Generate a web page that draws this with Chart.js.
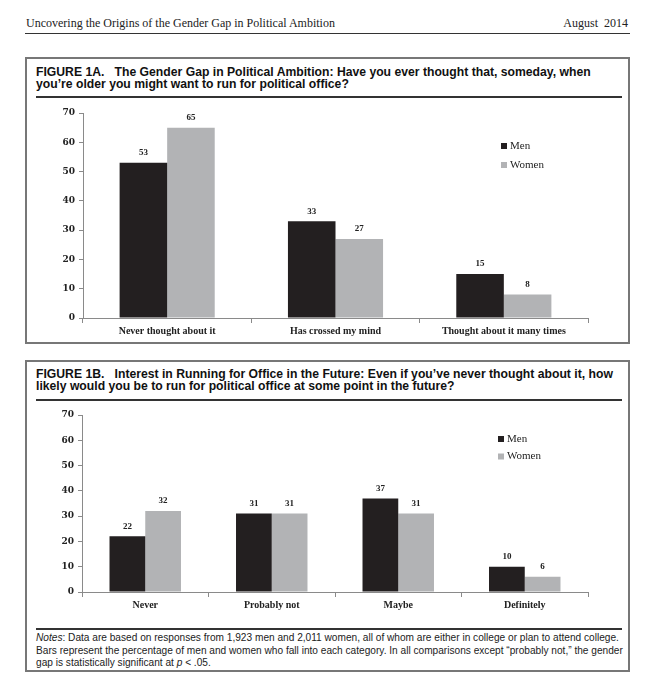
<!DOCTYPE html>
<html>
<head>
<meta charset="utf-8">
<script src="https://cdn.jsdelivr.net/npm/chart.js@4.4.1/dist/chart.umd.min.js"></script>
<style>
  body { margin: 0; background: #fff; width: 656px; height: 691px; position: relative; overflow: hidden; }
  .abs { position: absolute; }
  .header { font-family: "Liberation Serif", serif; font-size: 12px; color: #222; top: 16px; }
  .rule { position: absolute; background: #333; }
  .box { position: absolute; border: 2px solid #777; box-sizing: border-box; }
  .title { position: absolute; left: 36px; font-family: "Liberation Sans", Arial, sans-serif; font-weight: bold;
           font-size: 12.2px; line-height: 12px; color: #111; white-space: nowrap; }
  .notes { position: absolute; left: 36px; top: 632px; font-family: "Liberation Sans", Arial, sans-serif;
           font-size: 10.15px; line-height: 12.5px; color: #222; white-space: nowrap; }
  canvas { position: absolute; }
</style>
</head>
<body>
<div class="abs header" style="left:26px;">Uncovering the Origins of the Gender Gap in Political Ambition</div>
<div class="abs header" style="right:28px;">August&nbsp;&nbsp;2014</div>
<div class="rule" style="left:25px; width:605px; top:33px; height:1px;"></div>

<div class="box" style="left:25px; top:57px; width:605px; height:287px;"></div>
<div class="title" style="top:66px;">FIGURE 1A.&nbsp;&nbsp; The Gender Gap in Political Ambition: Have you ever thought that, someday, when<br>you’re older you might want to run for political office?</div>
<div class="rule" style="left:36px; width:586px; top:96px; height:1.5px;"></div>
<canvas id="chartA" width="600" height="240" style="left:26px; top:100px;"></canvas>

<div class="box" style="left:25px; top:360px; width:605px; height:312px;"></div>
<div class="title" style="top:368px;">FIGURE 1B.&nbsp;&nbsp; Interest in Running for Office in the Future: Even if you’ve never thought about it, how<br>likely would you be to run for political office at some point in the future?</div>
<div class="rule" style="left:36px; width:586px; top:399px; height:1.5px;"></div>
<canvas id="chartB" width="600" height="215" style="left:26px; top:403px;"></canvas>

<div class="rule" style="left:36px; width:586px; top:628px; height:1.5px;"></div>
<div class="notes"><i>Notes</i>: Data are based on responses from 1,923 men and 2,011 women, all of whom are either in college or plan to attend college.<br>Bars represent the percentage of men and women who fall into each category. In all comparisons except “probably not,” the gender<br>gap is statistically significant at <i>p</i> &lt; .05.</div>

<script>
// figure 1A data
const categoriesA = ['Never thought about it', 'Has crossed my mind', 'Thought about it many times'];
const menA = [53, 33, 15];
const womenA = [65, 27, 8];

// figure 1B data
const categoriesB = ['Never', 'Probably not', 'Maybe', 'Definitely'];
const menB = [22, 31, 37, 10];
const womenB = [32, 31, 31, 6];

const seriesNames = ['Men', 'Women'];
const yMin = 0, yMax = 70, yStep = 10;

const MEN_COLOR = '#231f20';
const WOMEN_COLOR = '#b2b3b5';
const AXIS_COLOR = '#8a8a8a';
const SERIF = '"Liberation Serif", "DejaVu Serif", serif';

// numbers above the bars
const valueLabels = {
    id: 'valueLabels',
    afterDatasetsDraw(chart) {
        const ctx = chart.ctx;
        ctx.save();
        ctx.font = 'bold 9px ' + SERIF;
        ctx.fillStyle = '#222';
        ctx.textAlign = 'center';
        ctx.textBaseline = 'middle';
        chart.data.datasets.forEach((ds, i) => {
            chart.getDatasetMeta(i).data.forEach((bar, j) => {
                ctx.fillText(ds.data[j], bar.x, bar.y - 10);
            });
        });
        ctx.restore();
    }
};

// small legend drawn inside the plot
const boxLegend = {
    id: 'boxLegend',
    afterDraw(chart, args, opts) {
        const ctx = chart.ctx;
        ctx.save();
        ctx.font = '11px ' + SERIF;
        ctx.textBaseline = 'middle';
        chart.data.datasets.forEach((ds, i) => {
            const y = opts.y + i * opts.gap;
            ctx.fillStyle = ds.backgroundColor;
            ctx.fillRect(opts.x, y - 3, 6, 6);
            ctx.fillStyle = '#222';
            ctx.fillText(ds.label, opts.x + 9, y);
        });
        ctx.restore();
    }
};

function makeChart(id, labels, men, women, lay) {
    return new Chart(document.getElementById(id), {
        type: 'bar',
        data: {
            labels: labels,
            datasets: [
                { label: seriesNames[0], data: men, backgroundColor: MEN_COLOR },
                { label: seriesNames[1], data: women, backgroundColor: WOMEN_COLOR }
            ]
        },
        options: {
            responsive: false,
            animation: false,
            layout: { padding: { top: lay.top, right: lay.right, left: 0, bottom: 0 } },
            categoryPercentage: 0.565,
            barPercentage: 1.0,
            plugins: {
                legend: { display: false },
                tooltip: { enabled: false },
                boxLegend: { x: lay.legendX, y: lay.legendY, gap: lay.legendGap }
            },
            scales: {
                x: {
                    grid: { drawOnChartArea: false, drawTicks: true, tickLength: 5, color: AXIS_COLOR, offset: true },
                    border: { color: AXIS_COLOR, width: 1 },
                    ticks: { font: { family: SERIF, size: 10, weight: 'bold' }, color: '#222', padding: 2, maxRotation: 0 },
                    afterFit: (s) => { s.height = lay.xHeight; }
                },
                y: {
                    min: yMin, max: yMax,
                    grid: { drawOnChartArea: false, drawTicks: true, tickLength: 4, color: AXIS_COLOR },
                    border: { color: AXIS_COLOR, width: 1 },
                    ticks: { stepSize: yStep, font: { family: '"DejaVu Serif", serif', size: 9, weight: 'bold' }, color: '#222', padding: 4 },
                    afterFit: (s) => { s.width = lay.yWidth; }
                }
            }
        },
        plugins: [valueLabels, boxLegend]
    });
}

makeChart('chartA', categoriesA, menA, womenA,
    { top: 13, right: 38, xHeight: 22, yWidth: 57, legendX: 475, legendY: 46, legendGap: 19 });
makeChart('chartB', categoriesB, menB, womenB,
    { top: 12, right: 38, xHeight: 26, yWidth: 56, legendX: 472, legendY: 36, legendGap: 17.5 });
</script>
</body>
</html>
